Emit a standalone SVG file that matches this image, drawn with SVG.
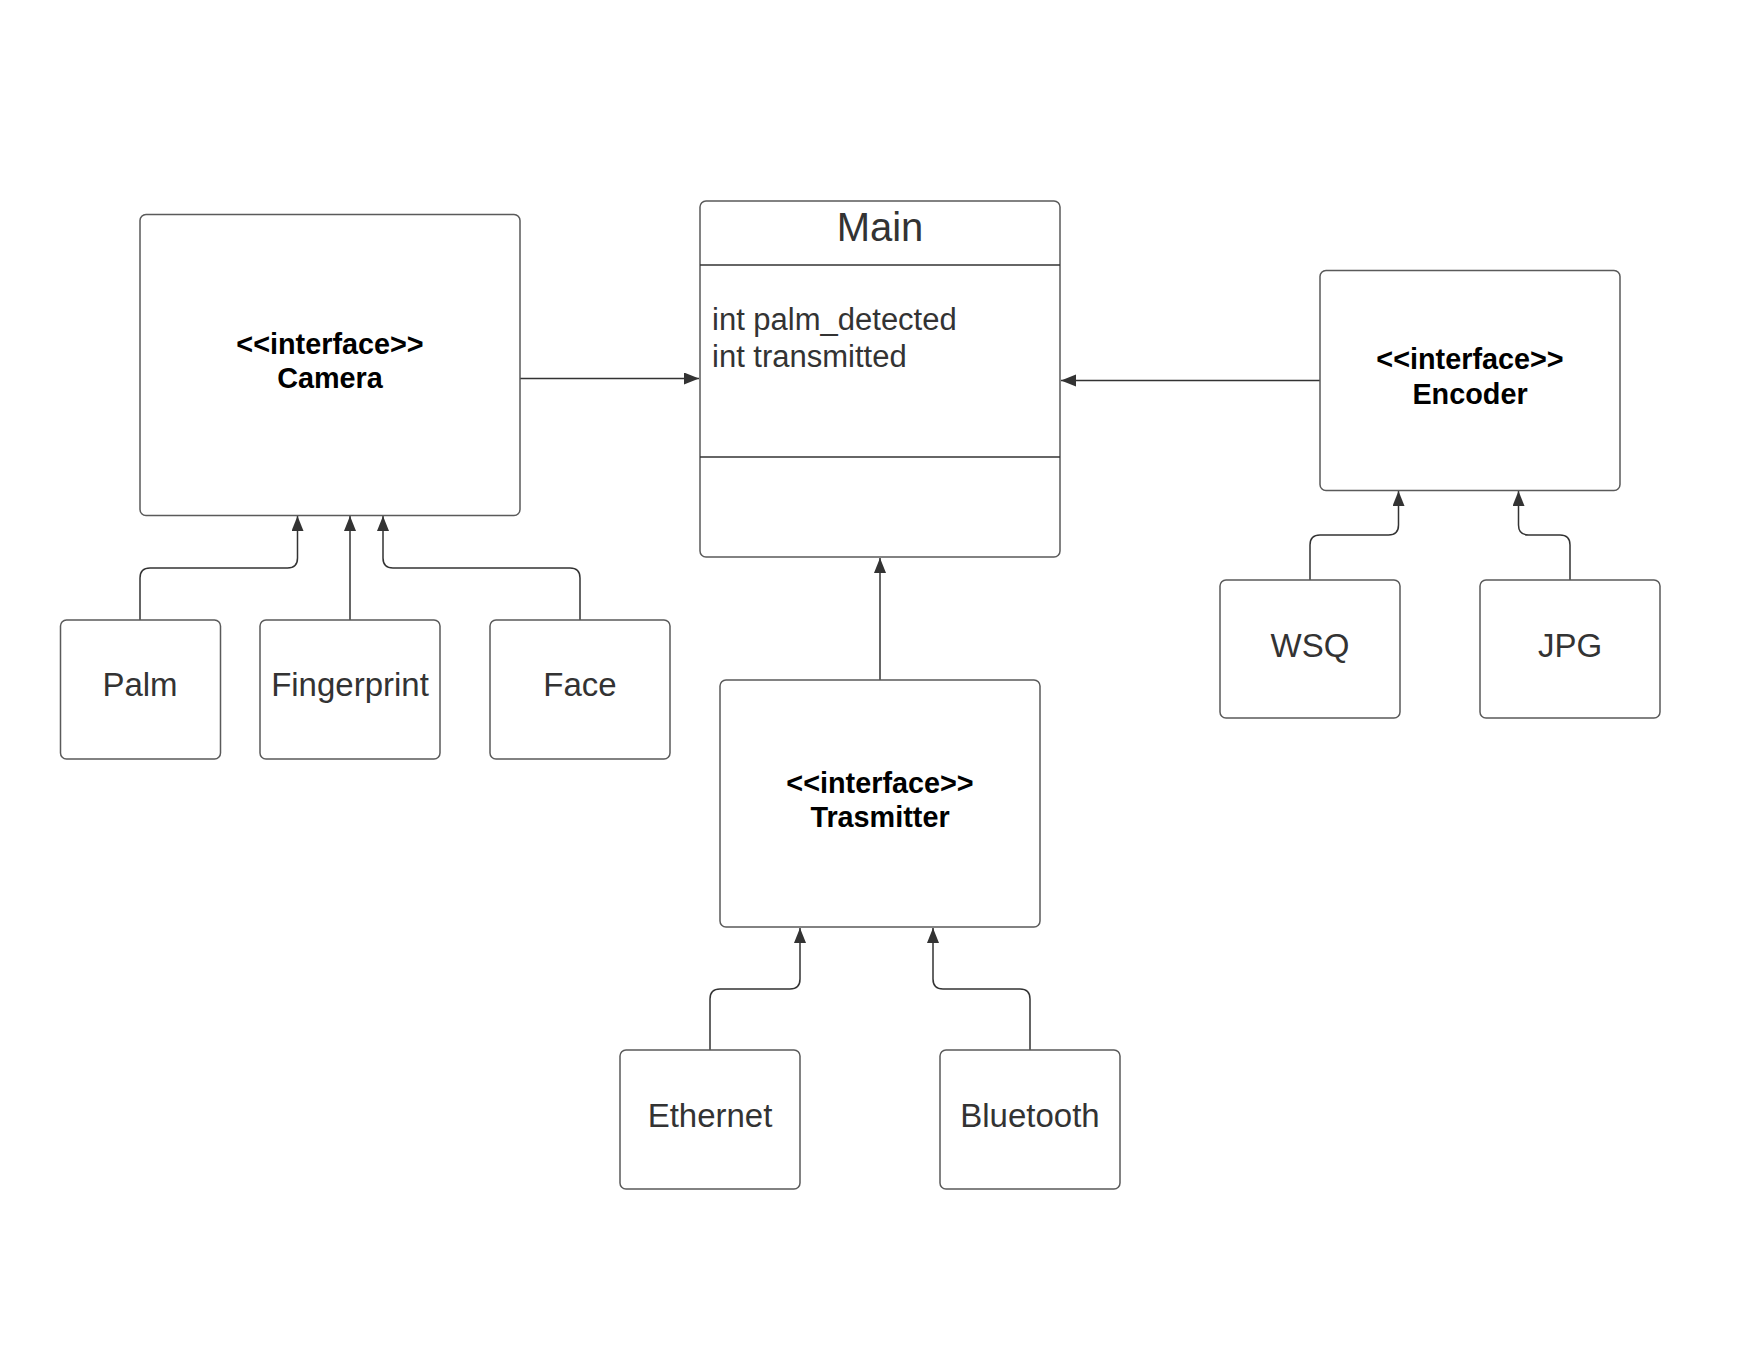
<svg xmlns="http://www.w3.org/2000/svg" width="1760" height="1360" viewBox="0 0 1760 1360">
<style>
.box{fill:#fff;stroke:#5a5a5a;stroke-width:1.5}
.div{stroke:#333;stroke-width:1.5}
.con{fill:none;stroke:#333;stroke-width:1.5}
.lbl{font-family:"Liberation Sans",Arial,sans-serif;font-size:33px;fill:#333;text-anchor:middle}
.ifc{font-family:"Liberation Sans",Arial,sans-serif;font-size:28.8px;font-weight:bold;fill:#000;text-anchor:middle}
.attr{font-family:"Liberation Sans",Arial,sans-serif;font-size:31px;fill:#333}
.title{font-family:"Liberation Sans",Arial,sans-serif;font-size:40px;fill:#333;text-anchor:middle}
</style>
<defs>
<marker id="arr" markerUnits="userSpaceOnUse" markerWidth="16" markerHeight="13" refX="15" refY="6" orient="auto">
<path d="M0,0 L15,6 L0,12 z" fill="#333"/>
</marker>
</defs>
<rect width="1760" height="1360" fill="#fff"/>
<g id="connectors">
<path class="con" marker-end="url(#arr)" d="M520 378.5 H699"/>
<path class="con" marker-end="url(#arr)" d="M1320 380.5 H1061"/>
<path class="con" marker-end="url(#arr)" d="M880 680 V558"/>
<path class="con" marker-end="url(#arr)" d="M140 620 V578 Q140 568 150 568 H287.5 Q297.5 568 297.5 558 V516"/>
<path class="con" marker-end="url(#arr)" d="M350 620 V516"/>
<path class="con" marker-end="url(#arr)" d="M580 620 V578 Q580 568 570 568 H393 Q383 568 383 558 V516"/>
<path class="con" marker-end="url(#arr)" d="M1310 580 V545 Q1310 535 1320 535 H1388.5 Q1398.5 535 1398.5 525 V491"/>
<path class="con" marker-end="url(#arr)" d="M1570 580 V545 Q1570 535 1560 535 H1528.5 Q1518.5 535 1518.5 525 V491"/>
<path class="con" marker-end="url(#arr)" d="M710 1050 V999 Q710 989 720 989 H790 Q800 989 800 979 V928"/>
<path class="con" marker-end="url(#arr)" d="M1030 1050 V999 Q1030 989 1020 989 H943 Q933 989 933 979 V928"/>
</g>
<g id="camera">
<rect class="box" x="140" y="214.5" width="380" height="301" rx="6"/>
<text class="ifc" x="330" y="354">&lt;&lt;interface&gt;&gt;</text>
<text class="ifc" x="330" y="388">Camera</text>
</g>
<g id="main">
<rect class="box" x="700" y="201" width="360" height="356" rx="6"/>
<line class="div" x1="700" y1="265" x2="1060" y2="265"/>
<line class="div" x1="700" y1="457" x2="1060" y2="457"/>
<text class="title" x="880" y="241">Main</text>
<text class="attr" x="712" y="330">int palm_detected</text>
<text class="attr" x="712" y="367">int transmitted</text>
</g>
<g id="encoder">
<rect class="box" x="1320" y="270.5" width="300" height="220" rx="6"/>
<text class="ifc" x="1470" y="369">&lt;&lt;interface&gt;&gt;</text>
<text class="ifc" x="1470" y="404">Encoder</text>
</g>
<g id="palm">
<rect class="box" x="60.5" y="620" width="160" height="139" rx="6"/>
<text class="lbl" x="140" y="696">Palm</text>
</g>
<g id="fingerprint">
<rect class="box" x="260" y="620" width="180" height="139" rx="6"/>
<text class="lbl" x="350" y="696">Fingerprint</text>
</g>
<g id="face">
<rect class="box" x="490" y="620" width="180" height="139" rx="6"/>
<text class="lbl" x="580" y="696">Face</text>
</g>
<g id="transmitter">
<rect class="box" x="720" y="680" width="320" height="247" rx="6"/>
<text class="ifc" x="880" y="793">&lt;&lt;interface&gt;&gt;</text>
<text class="ifc" x="880" y="827">Trasmitter</text>
</g>
<g id="wsq">
<rect class="box" x="1220" y="580" width="180" height="138" rx="6"/>
<text class="lbl" x="1310" y="657">WSQ</text>
</g>
<g id="jpg">
<rect class="box" x="1480" y="580" width="180" height="138" rx="6"/>
<text class="lbl" x="1570" y="657">JPG</text>
</g>
<g id="ethernet">
<rect class="box" x="620" y="1050" width="180" height="139" rx="6"/>
<text class="lbl" x="710" y="1127">Ethernet</text>
</g>
<g id="bluetooth">
<rect class="box" x="940" y="1050" width="180" height="139" rx="6"/>
<text class="lbl" x="1030" y="1127">Bluetooth</text>
</g>
</svg>
